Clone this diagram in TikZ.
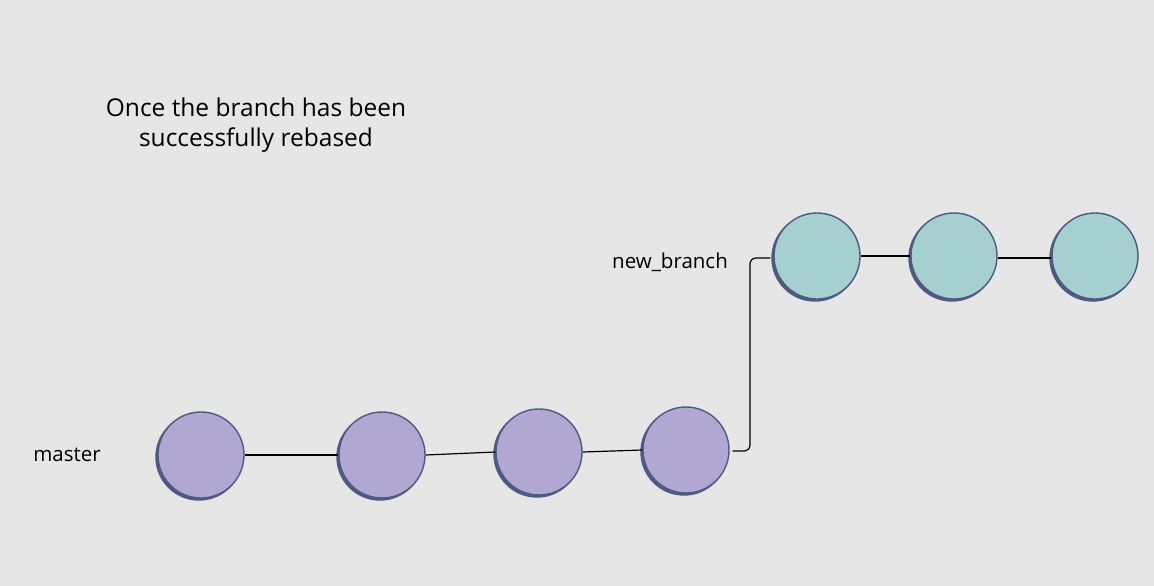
\documentclass[tikz,border=0pt]{standalone}
\usepackage{fontspec}
\setmainfont{Open Sans}
\definecolor{bg}{HTML}{E6E6E6}
\definecolor{mpurple}{HTML}{B0A8D2}
\definecolor{bteal}{HTML}{A5D0CF}
\definecolor{edge}{HTML}{4E5A80}
\tikzset{
  commit/.style={circle, minimum size=86pt, inner sep=0pt, draw=edge, line width=1.4pt},
  mcommit/.style={commit, fill=mpurple},
  bcommit/.style={commit, fill=bteal},
  shadow/.style={circle, minimum size=86pt, inner sep=0pt, fill=edge, draw=edge, line width=1.4pt},
  link/.style={draw=black, line width=1.2pt},
  lbl/.style={font=\fontsize{20.5}{24}\selectfont, inner sep=0pt}
}
\begin{document}
\begin{tikzpicture}[x=1pt,y=-1pt]
\fill[bg] (0,0) rectangle (1154,586);
\useasboundingbox (0,0) rectangle (1154,586);
% title
\node[font=\fontsize{24.5}{30}\selectfont, align=center] (title) at (256,125) {Once the branch has been\\successfully rebased};
\node[lbl] (mlbl) at (67,455) {master};
\node[lbl] (blbl) at (670,262) {new\_branch};
% shadows
\foreach \x/\y in {201/455,382/455,539/452,686/450,817/256,954/256,1095/256}
  \node[shadow] at (\x-2,\y+2) {};
% commits
\node[mcommit] (m1) at (201,455) {};
\node[mcommit] (m2) at (382,455) {};
\node[mcommit] (m3) at (539,452) {};
\node[mcommit] (m4) at (686,450) {};
\node[bcommit] (b1) at (817,256) {};
\node[bcommit] (b2) at (954,256) {};
\node[bcommit] (b3) at (1095,256) {};
% connectors
\draw[link] (m1.east) -- (m2.west);
\draw[link] (m2.east) -- (m3.west);
\draw[link] (m3.east) -- (m4.west);
\draw[link, rounded corners=6pt] (m4.east) ++(3,1) -- (750,451) -- (750,258) -- ([xshift=-3pt,yshift=-2pt]b1.west);
\draw[link] (b1.east) -- (b2.west);
\draw[link] ([yshift=-2pt]b2.east) -- ([yshift=-2pt]b3.west);
\end{tikzpicture}
\end{document}
